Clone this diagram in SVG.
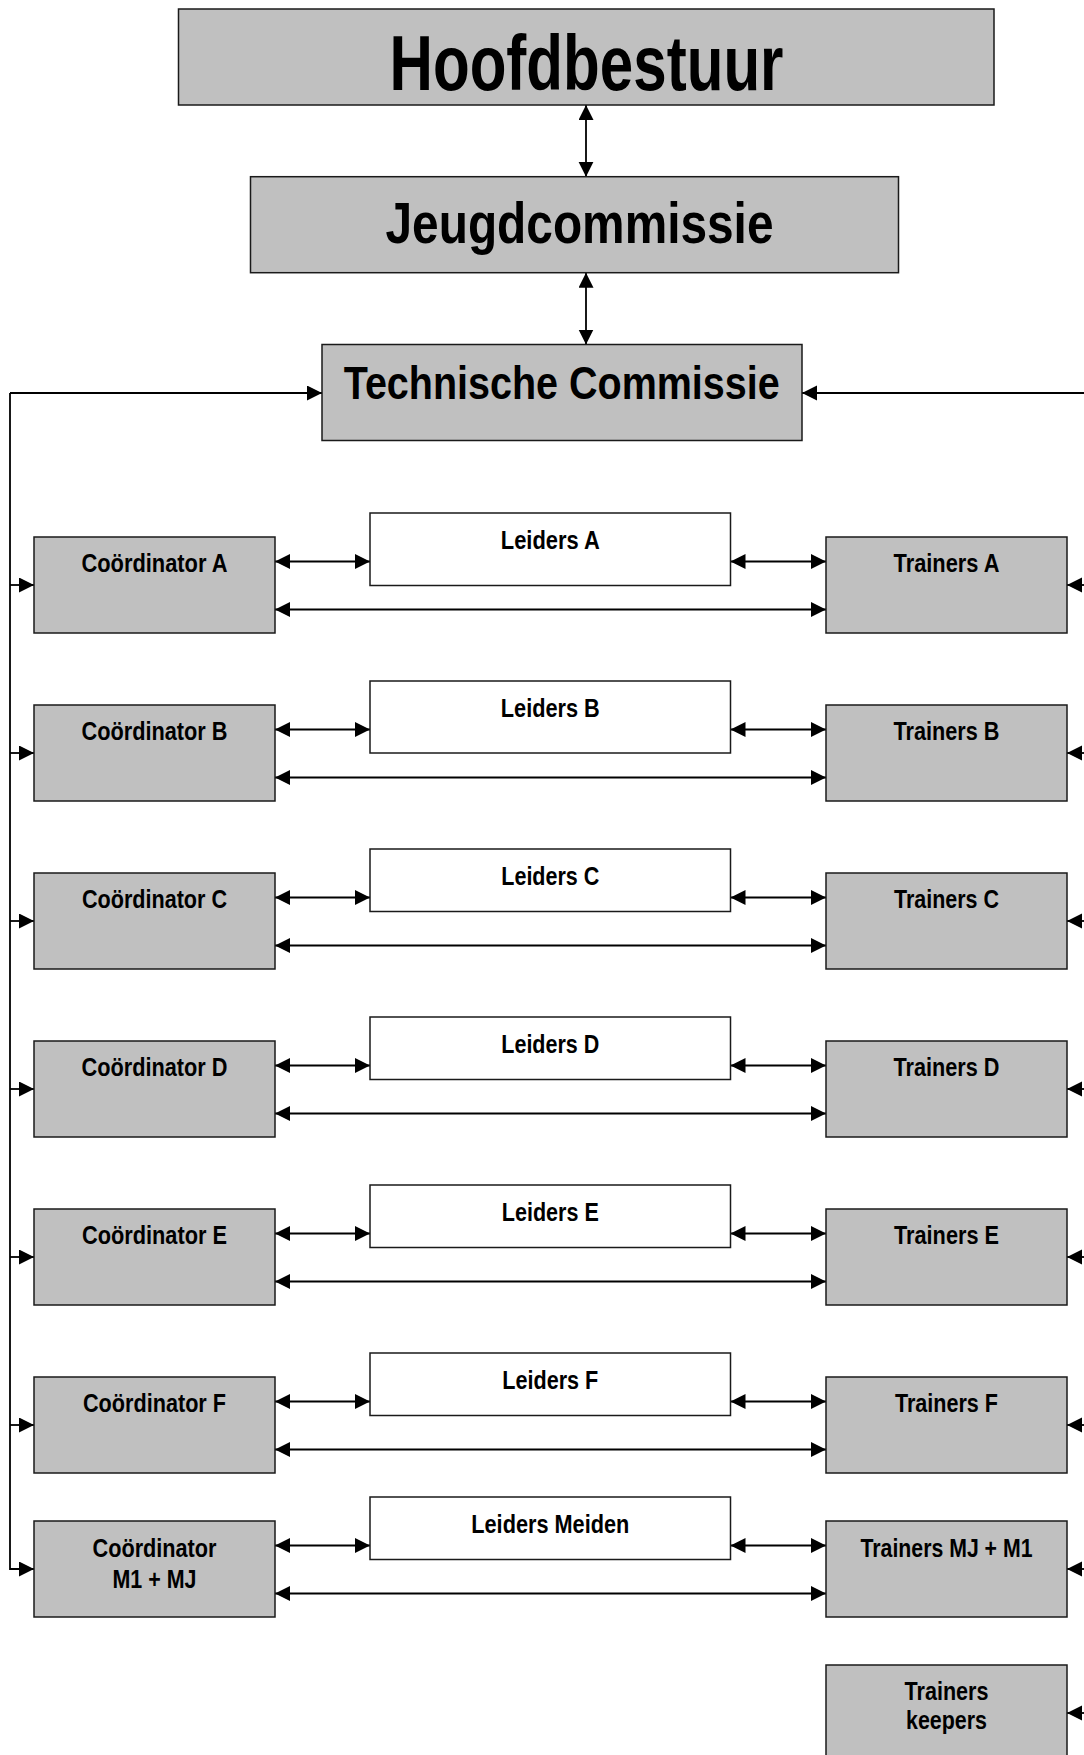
<svg xmlns="http://www.w3.org/2000/svg" width="1084" height="1755" viewBox="0 0 1084 1755">
<style>
.g{fill:#c0c0c0;stroke:#1a1a1a;stroke-width:1.5}
.w{fill:#ffffff;stroke:#1a1a1a;stroke-width:1.5}
text{font-family:"Liberation Sans",Arial,sans-serif;font-weight:bold;fill:#000;text-anchor:middle}
.s{font-size:25px}
.c{fill:none;stroke:#000;stroke-width:1.8}
.a{marker-end:url(#ah)}
.d{marker-start:url(#ah);marker-end:url(#ah)}
</style>
<defs>
<marker id="ah" markerUnits="userSpaceOnUse" markerWidth="16" markerHeight="16" refX="15" refY="7.5" orient="auto-start-reverse">
<path d="M0,0 L15,7.5 L0,15 Z" fill="#000"/>
</marker>
</defs>

<g id="connectors">
<path class="c d" d="M586,105 V176.7"/>
<path class="c d" d="M586,272.7 V344.5"/>
<path class="c a" d="M10,393 H322"/>
<path class="c a" d="M1090,393 H802"/>
<path class="c a" d="M10,393 V1569 H34"/>
<path class="c a" d="M10,585 H34"/>
<path class="c a" d="M10,753 H34"/>
<path class="c a" d="M10,921 H34"/>
<path class="c a" d="M10,1089 H34"/>
<path class="c a" d="M10,1257 H34"/>
<path class="c a" d="M10,1425 H34"/>
<path class="c a" d="M1090,585 H1067"/>
<path class="c a" d="M1090,753 H1067"/>
<path class="c a" d="M1090,921 H1067"/>
<path class="c a" d="M1090,1089 H1067"/>
<path class="c a" d="M1090,1257 H1067"/>
<path class="c a" d="M1090,1425 H1067"/>
<path class="c a" d="M1090,1569 H1067"/>
<path class="c a" d="M1090,1713 H1067"/>
<!-- row A -->
<path class="c d" d="M275,561.5 H370"/><path class="c d" d="M730.5,561.5 H826"/><path class="c d" d="M275,609.5 H826"/>
<!-- row B -->
<path class="c d" d="M275,729.5 H370"/><path class="c d" d="M730.5,729.5 H826"/><path class="c d" d="M275,777.5 H826"/>
<!-- row C -->
<path class="c d" d="M275,897.5 H370"/><path class="c d" d="M730.5,897.5 H826"/><path class="c d" d="M275,945.5 H826"/>
<!-- row D -->
<path class="c d" d="M275,1065.5 H370"/><path class="c d" d="M730.5,1065.5 H826"/><path class="c d" d="M275,1113.5 H826"/>
<!-- row E -->
<path class="c d" d="M275,1233.5 H370"/><path class="c d" d="M730.5,1233.5 H826"/><path class="c d" d="M275,1281.5 H826"/>
<!-- row F -->
<path class="c d" d="M275,1401.5 H370"/><path class="c d" d="M730.5,1401.5 H826"/><path class="c d" d="M275,1449.5 H826"/>
<!-- row M -->
<path class="c d" d="M275,1545.5 H370"/><path class="c d" d="M730.5,1545.5 H826"/><path class="c d" d="M275,1593.5 H826"/>
</g>

<g id="hoofdbestuur"><rect class="g" x="178.5" y="9" width="815.5" height="96"/><text x="586.5" y="90" font-size="77" textLength="394" lengthAdjust="spacingAndGlyphs">Hoofdbestuur</text></g>
<g id="jeugdcommissie"><rect class="g" x="250.5" y="176.7" width="648" height="96"/><text x="579.5" y="242.7" font-size="57" textLength="388" lengthAdjust="spacingAndGlyphs">Jeugdcommissie</text></g>
<g id="technische"><rect class="g" x="322" y="344.5" width="480" height="96"/><text x="561.7" y="399.3" font-size="45.5" textLength="436" lengthAdjust="spacingAndGlyphs">Technische Commissie</text></g>

<g id="coord-a"><rect class="g" x="34" y="537" width="241" height="96"/><text class="s" x="154.5" y="572" textLength="146" lengthAdjust="spacingAndGlyphs">Coördinator A</text></g>
<g id="leiders-a"><rect class="w" x="370" y="513" width="360.5" height="72.5"/><text class="s" x="550.3" y="549" textLength="99" lengthAdjust="spacingAndGlyphs">Leiders A</text></g>
<g id="trainers-a"><rect class="g" x="826" y="537" width="241" height="96"/><text class="s" x="946.5" y="572" textLength="106" lengthAdjust="spacingAndGlyphs">Trainers A</text></g>

<g id="coord-b"><rect class="g" x="34" y="705" width="241" height="96"/><text class="s" x="154.5" y="740" textLength="146" lengthAdjust="spacingAndGlyphs">Coördinator B</text></g>
<g id="leiders-b"><rect class="w" x="370" y="681" width="360.5" height="72"/><text class="s" x="550.3" y="717" textLength="99" lengthAdjust="spacingAndGlyphs">Leiders B</text></g>
<g id="trainers-b"><rect class="g" x="826" y="705" width="241" height="96"/><text class="s" x="946.5" y="740" textLength="106" lengthAdjust="spacingAndGlyphs">Trainers B</text></g>

<g id="coord-c"><rect class="g" x="34" y="873" width="241" height="96"/><text class="s" x="154.5" y="908" textLength="145" lengthAdjust="spacingAndGlyphs">Coördinator C</text></g>
<g id="leiders-c"><rect class="w" x="370" y="849" width="360.5" height="62.5"/><text class="s" x="550.3" y="884.5" textLength="98" lengthAdjust="spacingAndGlyphs">Leiders C</text></g>
<g id="trainers-c"><rect class="g" x="826" y="873" width="241" height="96"/><text class="s" x="946.5" y="908" textLength="105" lengthAdjust="spacingAndGlyphs">Trainers C</text></g>

<g id="coord-d"><rect class="g" x="34" y="1041" width="241" height="96"/><text class="s" x="154.5" y="1076" textLength="146" lengthAdjust="spacingAndGlyphs">Coördinator D</text></g>
<g id="leiders-d"><rect class="w" x="370" y="1017" width="360.5" height="62.5"/><text class="s" x="550.3" y="1052.5" textLength="98" lengthAdjust="spacingAndGlyphs">Leiders D</text></g>
<g id="trainers-d"><rect class="g" x="826" y="1041" width="241" height="96"/><text class="s" x="946.5" y="1076" textLength="106" lengthAdjust="spacingAndGlyphs">Trainers D</text></g>

<g id="coord-e"><rect class="g" x="34" y="1209" width="241" height="96"/><text class="s" x="154.5" y="1244" textLength="145" lengthAdjust="spacingAndGlyphs">Coördinator E</text></g>
<g id="leiders-e"><rect class="w" x="370" y="1185" width="360.5" height="62.5"/><text class="s" x="550.3" y="1220.5" textLength="97" lengthAdjust="spacingAndGlyphs">Leiders E</text></g>
<g id="trainers-e"><rect class="g" x="826" y="1209" width="241" height="96"/><text class="s" x="946.5" y="1244" textLength="105" lengthAdjust="spacingAndGlyphs">Trainers E</text></g>

<g id="coord-f"><rect class="g" x="34" y="1377" width="241" height="96"/><text class="s" x="154.5" y="1412" textLength="143" lengthAdjust="spacingAndGlyphs">Coördinator F</text></g>
<g id="leiders-f"><rect class="w" x="370" y="1353" width="360.5" height="62.5"/><text class="s" x="550.3" y="1388.5" textLength="96" lengthAdjust="spacingAndGlyphs">Leiders F</text></g>
<g id="trainers-f"><rect class="g" x="826" y="1377" width="241" height="96"/><text class="s" x="946.5" y="1412" textLength="103" lengthAdjust="spacingAndGlyphs">Trainers F</text></g>

<g id="coord-m"><rect class="g" x="34" y="1521" width="241" height="96"/><text class="s" x="154.5" y="1557" textLength="124" lengthAdjust="spacingAndGlyphs">Coördinator</text><text class="s" x="154.5" y="1587.5" textLength="84" lengthAdjust="spacingAndGlyphs">M1 + MJ</text></g>
<g id="leiders-meiden"><rect class="w" x="370" y="1497" width="360.5" height="62.5"/><text class="s" x="550.3" y="1532.5" textLength="158" lengthAdjust="spacingAndGlyphs">Leiders Meiden</text></g>
<g id="trainers-m"><rect class="g" x="826" y="1521" width="241" height="96"/><text class="s" x="946.5" y="1557" textLength="172" lengthAdjust="spacingAndGlyphs">Trainers MJ + M1</text></g>

<g id="trainers-keepers"><rect class="g" x="826" y="1665" width="241" height="96"/><text class="s" x="946.5" y="1699.5" textLength="84" lengthAdjust="spacingAndGlyphs">Trainers</text><text class="s" x="946.5" y="1728.5" textLength="81" lengthAdjust="spacingAndGlyphs">keepers</text></g>
</svg>
